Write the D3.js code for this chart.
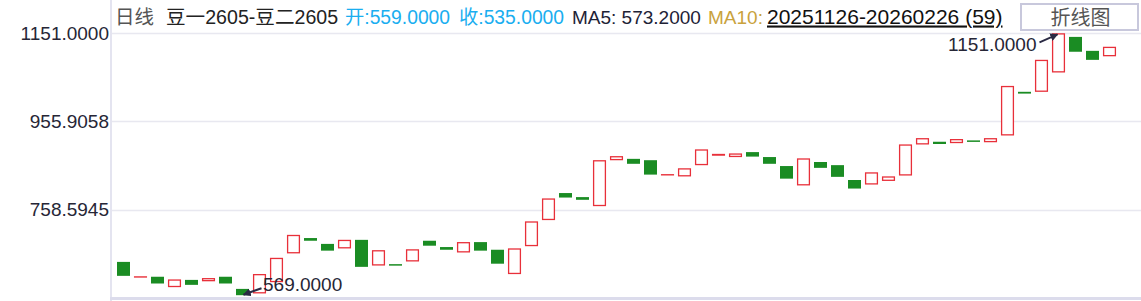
<!DOCTYPE html>
<html>
<head>
<meta charset="utf-8">
<script src="https://cdn.jsdelivr.net/npm/d3@7"></script>
<style>
  html,body{margin:0;padding:0;background:#fff;}
  svg{display:block;font-family:"Liberation Sans",Arial,"Noto Sans CJK SC",sans-serif;}
</style>
</head>
<body>
<svg id="chart" width="1141" height="301"></svg>
<script>
// open / close of each day, 20251126 - 20260226 (59 days)
const opens  = [643,610,610,587,603,600,610,583,573,598,662,696,683,673,692,635,638,644,690,676,
                664,687,670,616,678,736,796,787,767,869,872,869,837,833,858,879,876,887,876,856,
                813,865,858,825,815,823,835,904,910,907,913,909,924,1021,1021,1064,1143,1112,1100]
const closes = [612,611,595,604,592,607,595,569,616,652,703,690,668,692,632,669,637,671,679,670,
                687,668,639,673,733,784,786,781,869,878,861,837,838,851,893,883,884,877,861,828,
                873,852,832,806,842,833,904,918,905,916,911,918,1034,1017,1092,1151,1110,1092,1121]
const tickVals = [1151.0000, 955.9058, 758.5945]
const yMin = 569, yMax = 1151

const svg = d3.select('#chart')
const pLeft = 112, pRight = 1141, pTop = 33.3, pBottom = 295.2

const idx = d3.range(opens.length)
const x = d3.scaleBand().domain(idx).range([115, 115 + 59*17]).paddingInner(4/17).paddingOuter(2/17)
const y = d3.scaleLinear().domain([yMin, yMax]).range([pBottom, pTop])

// grid
svg.append('g').selectAll('line').data(tickVals).join('line')
  .attr('x1', pLeft).attr('x2', pRight)
  .attr('y1', d => Math.round(y(d)) + 0.5).attr('y2', d => Math.round(y(d)) + 0.5)
  .attr('stroke', '#e8e8f0').attr('stroke-width', 1.3)

// axis labels
const yAxis = d3.axisLeft(y).tickValues(tickVals).tickFormat(d3.format('.4f')).tickSize(0).tickPadding(3)
const ag = svg.append('g').attr('transform', `translate(${pLeft},0)`).call(yAxis)
ag.select('.domain').remove()
ag.selectAll('text').attr('font-size', 19).attr('fill', '#262636')
  .attr('font-family', '"Liberation Sans",Arial,sans-serif')

// frame lines
svg.append('line').attr('x1', 111).attr('x2', 111).attr('y1', 0).attr('y2', 301)
  .attr('stroke', '#e4e4f0').attr('stroke-width', 2)
svg.append('line').attr('x1', 110).attr('x2', pRight).attr('y1', 298.5).attr('y2', 298.5)
  .attr('stroke', '#dcdcec').attr('stroke-width', 3)

// candles (no shadows)
const up = i => closes[i] >= opens[i]
svg.append('g').selectAll('rect').data(idx).join('rect')
  .attr('x', i => x(i) + (up(i) ? 0.6 : 0))
  .attr('width', i => x.bandwidth() - (up(i) ? 1.2 : 0))
  .attr('y', i => {
    const y0 = y(Math.max(opens[i], closes[i]))
    return up(i) ? y0 + 0.6 : y0
  })
  .attr('height', i => {
    const h = Math.abs(y(opens[i]) - y(closes[i]))
    return up(i) ? Math.max(h - 1.2, 0.1) : Math.max(h, 1.5)
  })
  .attr('fill', i => up(i) ? '#fff' : '#1a8c23')
  .attr('stroke', i => up(i) ? '#e8303a' : 'none')
  .attr('stroke-width', 1.3)

// max / min markers
svg.append('defs').append('marker').attr('id', 'arr')
  .attr('viewBox', '0 0 10 10').attr('refX', 9).attr('refY', 5)
  .attr('markerWidth', 4).attr('markerHeight', 4).attr('orient', 'auto')
  .append('path').attr('d', 'M0,0L10,5L0,10z').attr('fill', '#2a2a44')

const iMax = d3.maxIndex(closes), iMin = d3.minIndex(closes)
const cMax = x(iMax) + x.bandwidth()/2, yTop = y(closes[iMax])
const cMin = x(iMin) + x.bandwidth()/2, yBot = y(closes[iMin])

svg.append('line').attr('x1', cMax - 19).attr('y1', yTop + 9).attr('x2', cMax - 1).attr('y2', yTop + 1)
  .attr('stroke', '#2a2a44').attr('stroke-width', 2).attr('marker-end', 'url(#arr)')
svg.append('text').attr('x', cMax - 22).attr('y', yTop + 17.5).attr('text-anchor', 'end')
  .attr('font-size', 19).attr('fill', '#262636').text(d3.format('.4f')(closes[iMax]))

svg.append('line').attr('x1', cMin + 19).attr('y1', yBot - 7).attr('x2', cMin + 1).attr('y2', yBot - 0.5)
  .attr('stroke', '#2a2a44').attr('stroke-width', 2).attr('marker-end', 'url(#arr)')
svg.append('text').attr('x', cMin + 20.5).attr('y', yBot - 4.5)
  .attr('font-size', 19).attr('fill', '#262636').text(d3.format('.4f')(closes[iMin]))

// header
const header = [
  {x: 115, t: '日线', c: '#555', s: 19.5},
  {x: 166, t: '豆一2605-豆二2605', c: '#222', s: 19.6},
  {x: 345, t: '开:559.0000', c: '#1aaef0', s: 19.3},
  {x: 459, t: '收:535.0000', c: '#1aaef0', s: 19.3},
  {x: 572, t: 'MA5: 573.2000', c: '#1e2236', s: 19},
  {x: 708, t: 'MA10:', c: '#c9a23c', s: 19},
  {x: 767, t: '20251126-20260226 (59)', c: '#111', s: 21, u: true}
]
svg.append('g').selectAll('text').data(header).join('text')
  .attr('x', d => d.x).attr('y', 23.5).attr('font-size', d => d.s).attr('fill', d => d.c)
  .attr('text-decoration', d => d.u ? 'underline' : null)
  .text(d => d.t)

// button
svg.append('rect').attr('x', 1021).attr('y', 4).attr('width', 117).attr('height', 26)
  .attr('fill', '#fff').attr('stroke', '#c8c8dc').attr('stroke-width', 2)
svg.append('text').attr('x', 1080.5).attr('y', 24.5).attr('text-anchor', 'middle')
  .attr('font-size', 20).attr('fill', '#555').text('折线图')
</script>
</body>
</html>
